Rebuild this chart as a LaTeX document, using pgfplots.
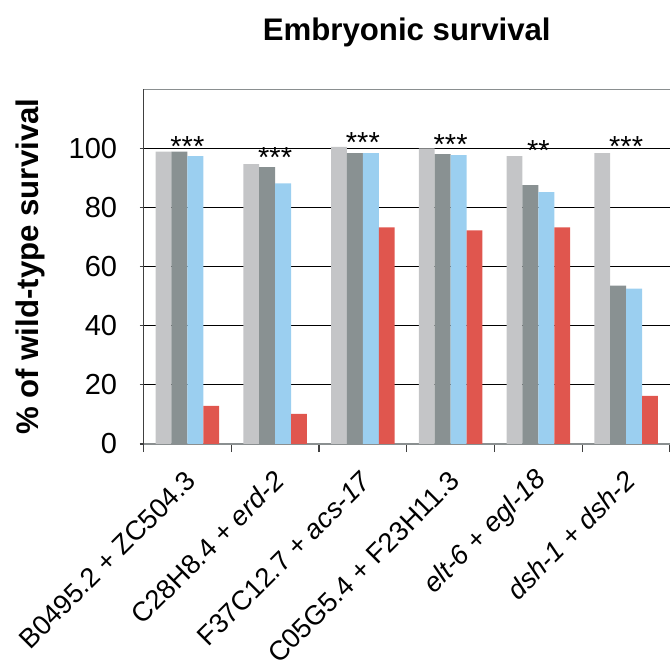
\documentclass[border=0pt]{standalone}
\usepackage{fontspec}
\setmainfont{Liberation Sans}
\usepackage{pgfplots}
\pgfplotsset{compat=1.18}

\definecolor{lgray}{HTML}{C4C5C7}
\definecolor{dgray}{HTML}{899192}
\definecolor{lblue}{HTML}{9BCFF0}
\definecolor{bred}{HTML}{E0564E}
\definecolor{axgray}{HTML}{8A8F90}

\newcommand\chartfont{\fontsize{14.5}{17}\selectfont}
\newcommand\labelfont{\fontsize{13.6}{16}\selectfont}
\newcommand\boldfont{\fontsize{15.6}{18}\selectfont\bfseries}

\begin{document}
\begin{tikzpicture}[font=\chartfont]
\begin{axis}[
    name=ax,
    scale only axis,
    width=263.25pt, height=177.35pt,
    /pgf/number format/assume math mode=true,
    ymin=0, ymax=120,
    xmin=-0.5, xmax=5.5,
    ybar=0pt, bar width=0.181,
    ytick={0,20,...,100},
    xtick={0,...,5},
    xticklabels={
        B0495.2 + ZC504.3,
        C28H8.4 + \textit{erd-2},
        F37C12.7 + \textit{acs-17},
        C05G5.4 + F23H11.3,
        \textit{elt-6} + \textit{egl-18},
        \textit{dsh-1} + \textit{dsh-2}},
    minor xtick={-0.5,0.5,...,5.5},
    axis x line*=bottom, axis y line*=left,
    x axis line style={-, draw=axgray, line width=1pt},
    y axis line style={-, draw=black!75, line width=0.8pt},
    tick align=outside,
    major x tick style={draw=none},
    minor x tick style={draw=black!75, line width=0.6pt},
    minor tick length=4pt,
    major tick length=2pt,
    y tick style={draw=black!75, line width=0.6pt},
    ymajorgrids,
    grid style={black, line width=0.6pt},
    yticklabel style={anchor=east, inner sep=0pt, xshift=-11pt},
    xticklabel style={font=\labelfont, xshift=2pt, yshift=-14pt, rotate=45, anchor=east, inner sep=0pt},
]
% light gray, dark gray, blue, red
\addplot[fill=lgray, draw=none] coordinates {(0,98.9) (1,94.7) (2,100.5) (3,100) (4,97.4) (5,98.4)};
\addplot[fill=dgray, draw=none] coordinates {(0,98.9) (1,93.7) (2,98.4) (3,98.1) (4,87.6) (5,53.6)};
\addplot[fill=lblue, draw=none] coordinates {(0,97.4) (1,88.2) (2,98.4) (3,97.7) (4,85.2) (5,52.6)};
\addplot[fill=bred, draw=none] coordinates {(0,12.9) (1,10.2) (2,73.3) (3,72.3) (4,73.3) (5,16.3)};

\draw[axgray, line width=1pt] (rel axis cs:0,1) -- (rel axis cs:1,1);

\node[anchor=base] at (axis cs:0,97.3) {***};
\node[anchor=base] at (axis cs:1,93.7) {***};
\node[anchor=base] at (axis cs:2,98.5) {***};
\node[anchor=base] at (axis cs:3,98.0) {***};
\node[anchor=base] at (axis cs:4,96.0) {**};
\node[anchor=base] at (axis cs:5,97.3) {***};
\end{axis}

\node[anchor=base, font=\boldfont] at ([yshift=24.3pt]ax.north) {Embryonic survival};
\node[rotate=90, anchor=base, font=\boldfont] at ([xshift=-52.25pt]ax.west) {\% of wild-type survival};

\pgfresetboundingbox
\path[use as bounding box] ([xshift=-71.75pt, yshift=-114pt]ax.south west) rectangle ([yshift=44.65pt]ax.north east);
\end{tikzpicture}
\end{document}
